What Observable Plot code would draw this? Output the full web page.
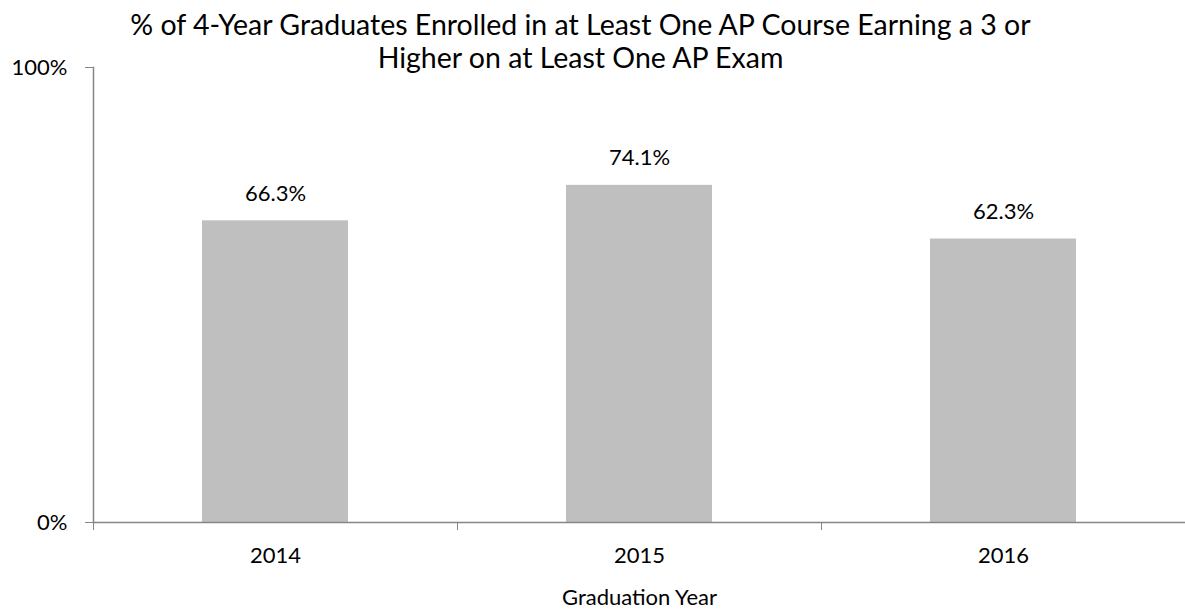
<!DOCTYPE html>
<html>
<head>
<meta charset="utf-8">
<script src="https://cdn.jsdelivr.net/npm/d3@7"></script>
<script src="https://cdn.jsdelivr.net/npm/@observablehq/plot@0.6"></script>
<style>
  html, body { margin: 0; padding: 0; background: #fff; }
  #wrap { position: relative; width: 1185px; height: 611px; font-family: Lato, "Open Sans", sans-serif; }
  #title { position: absolute; left: 0; top: 8px; width: 1161px; text-align: center; font-size: 28.5px; line-height: 33px; color: #000; }
</style>
</head>
<body>
<div id="wrap">
  <div id="chart"></div>
  <div id="title">% of 4-Year Graduates Enrolled in at Least One AP Course Earning a 3 or<br>Higher on at Least One AP Exam</div>
</div>
<script>
const years = ["2014", "2015", "2016"];
const values = [0.663, 0.741, 0.623];
const labels = ["66.3%", "74.1%", "62.3%"];
const yTicks = [0, 1];
const data = years.map((y, i) => ({year: y, value: values[i], label: labels[i]}));

const axisColor = "#868686";
const chart = Plot.plot({
  width: 1185,
  height: 611,
  marginLeft: 93,
  marginRight: 0,
  marginTop: 67,
  marginBottom: 89,
  style: {fontFamily: "Lato, 'Open Sans', sans-serif", fontSize: "22px", color: "#000", background: "#fff"},
  x: {domain: years, paddingInner: 0.6, paddingOuter: 0.3, label: null},
  y: {domain: [0, 1], label: null},
  marks: [
    Plot.barY(data, {x: "year", y: "value", fill: "#bfbfbf"}),
    Plot.text(data, {x: "year", y: "value", text: "label", lineAnchor: "bottom", dy: -20, fontSize: 22, fill: "#000"}),
    Plot.frame({anchor: "left", stroke: axisColor, strokeWidth: 1.5}),
    Plot.frame({anchor: "bottom", stroke: axisColor, strokeWidth: 1.5}),
    Plot.axisY({ticks: yTicks, tickFormat: d3.format(".0%"), tickSize: 8, tickPadding: 18, stroke: axisColor, fill: "#000", fontSize: 22, label: null}),
    Plot.axisX({tickSize: 8, tickFormat: () => "", dx: -182, stroke: axisColor, label: null}),
    Plot.axisX({tickSize: 0, tickPadding: 25, fontSize: 22, fill: "#000", label: "Graduation Year", labelAnchor: "center", labelArrow: "none", labelOffset: 82})
  ]
});
document.getElementById("chart").appendChild(chart);
</script>
</body>
</html>
